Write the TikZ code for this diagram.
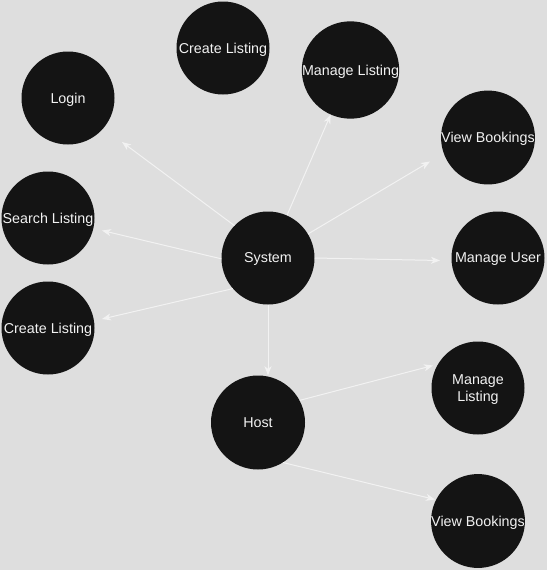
\documentclass[tikz,border=0pt]{standalone}
\usepackage{fontspec}
\setmainfont{Liberation Sans}
\usepackage{tikz}
\usetikzlibrary{arrows.meta}

\definecolor{canvas}{HTML}{DEDEDE}
\definecolor{bubble}{HTML}{141414}
\definecolor{ink}{HTML}{F2F2F2}

\begin{document}
\begin{tikzpicture}[x=1pt, y=-1pt,
    usecase/.style={circle, fill=bubble, text=ink, minimum size=93pt, inner sep=0pt,
        align=center, text depth=0pt, font=\fontsize{14.3}{17}\selectfont},
    link/.style={draw=ink, line width=1pt, -{Stealth[length=9pt, width=7pt, inset=2.5pt]}}]
    \fill[canvas] (0,0) rectangle (547,570);
    \useasboundingbox (0,0) rectangle (547,570);

    \node[usecase] (system) at (268,258) {System};
    \node[usecase] (login) at (68,98) {Login};
    \node[usecase] (createTop) at (223,48) {Create Listing};
    \node[usecase, minimum size=97pt] (manageTop) at (350.5,70) {Manage Listing};
    \node[usecase] (viewTop) at (488,137.5) {View Bookings};
    \node[usecase] (search) at (48,218) {Search Listing};
    \node[usecase] (manageUser) at (498,258) {Manage User};
    \node[usecase] (createLeft) at (48,328) {Create Listing};
    \node[usecase, minimum size=94pt] (host) at (258,422.5) {Host};
    \node[usecase] (manageHost) at (478,388) {Manage\\Listing};
    \node[usecase] (viewHost) at (478,521) {View Bookings};

    \coordinate (loginIn) at (122,142);
    \coordinate (viewTopIn) at (430,161.5);
    \coordinate (manageUserIn) at (440,260.5);
    \coordinate (searchIn) at (102,230.5);
    \coordinate (createLeftIn) at (102,319);
    \coordinate (manageHostIn) at (433,365.5);
    \coordinate (viewHostIn) at (435,499.5);

    \draw[link] (system.136) -- (loginIn);
    \draw[link] (system.66) -- (manageTop.246);
    \draw[link] (system.31) -- (viewTopIn);
    \draw[link] (system.0) -- (manageUserIn);
    \draw[link] (system.181) -- (searchIn);
    \draw[link] (system.221) -- (createLeftIn);
    \draw[link] (system.south) -- (system.south |- host.north);
    \draw[link] (host.28) -- (manageHostIn);
    \draw[link] (host.302) -- (viewHostIn);
\end{tikzpicture}
\end{document}
